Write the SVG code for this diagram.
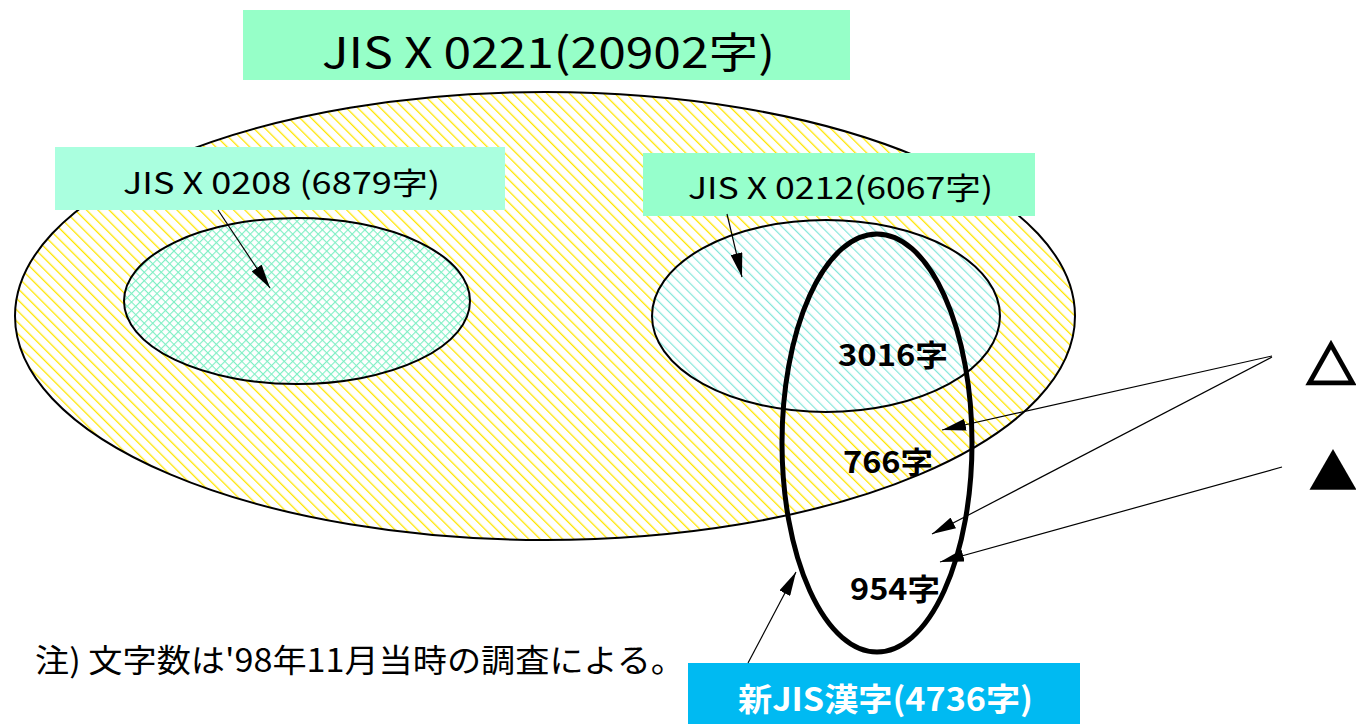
<svg xmlns="http://www.w3.org/2000/svg" width="1356" height="724" viewBox="0 0 1356 724">
<defs>
<style>
.t{font-family:"Noto Sans CJK JP","Liberation Sans",sans-serif;fill:#000}
.b{font-weight:bold}
.ln{stroke:#000;stroke-width:1.2;fill:none}
</style>
<pattern id="py" width="8" height="8" patternUnits="userSpaceOnUse" patternTransform="rotate(-45)">
<rect width="8" height="8" fill="#fff"/>
<line x1="0" y1="0" x2="0" y2="8" stroke="#FFE600" stroke-width="2.6"/>
</pattern>
<pattern id="pc" width="6" height="6" patternUnits="userSpaceOnUse" patternTransform="rotate(45)">
<rect width="6" height="6" fill="#fff"/>
<line x1="0" y1="0" x2="0" y2="6" stroke="#7FEFC4" stroke-width="2.2"/>
<line x1="0" y1="0" x2="6" y2="0" stroke="#7FEFC4" stroke-width="2.2"/>
</pattern>
<pattern id="pr" width="7" height="7" patternUnits="userSpaceOnUse" patternTransform="rotate(-45)">
<rect width="7" height="7" fill="#fff"/>
<line x1="0" y1="0" x2="0" y2="7" stroke="#84E6DA" stroke-width="2.4"/>
</pattern>
<marker id="ah" markerWidth="24" markerHeight="12" refX="24" refY="6" orient="auto" markerUnits="userSpaceOnUse">
<path d="M0,0 L24,6 L0,12 Z" fill="#000"/>
</marker>
</defs>
<rect width="1356" height="724" fill="#fff"/>
<g id="jisx0221">
<ellipse cx="545" cy="316" rx="530" ry="224" fill="url(#py)" stroke="#000" stroke-width="2"/>
</g>
<g id="jisx0208">
<ellipse cx="297" cy="301" rx="173" ry="83" fill="url(#pc)" stroke="#000" stroke-width="2"/>
</g>
<g id="jisx0212">
<ellipse cx="826" cy="316" rx="174" ry="96" fill="url(#pr)" stroke="#000" stroke-width="2"/>
</g>
<g id="newjis">
<ellipse cx="877" cy="443" rx="95" ry="209" fill="none" stroke="#000" stroke-width="5"/>
</g>
<g id="title">
<rect x="243" y="10" width="607" height="70" fill="#96FFC8"/>
<text class="t" x="322" y="68" font-size="42" textLength="453" lengthAdjust="spacingAndGlyphs">JIS X 0221(20902字)</text>
</g>
<g id="label0208">
<rect x="55" y="147" width="450" height="63" fill="#AAFFDF"/>
<text class="t" x="123" y="194" font-size="30" textLength="317" lengthAdjust="spacingAndGlyphs">JIS X 0208 (6879字)</text>
</g>
<g id="label0212">
<rect x="643" y="153" width="392" height="63" fill="#96FFCC"/>
<text class="t" x="688" y="199" font-size="30" textLength="305" lengthAdjust="spacingAndGlyphs">JIS X 0212(6067字)</text>
</g>
<g id="counts">
<text class="t b" x="838" y="366" font-size="30" textLength="110" lengthAdjust="spacingAndGlyphs">3016字</text>
<text class="t b" x="843" y="473" font-size="30" textLength="90" lengthAdjust="spacingAndGlyphs">766字</text>
<text class="t b" x="850" y="600" font-size="30" textLength="90" lengthAdjust="spacingAndGlyphs">954字</text>
</g>
<g id="legend">
<text class="t b" x="1306" y="384" font-size="50" stroke="#000" stroke-width="2.5">△</text>
<text class="t" x="1308" y="490" font-size="50">▲</text>
</g>
<g id="note">
<text class="t" x="35" y="672" font-size="32" textLength="650" lengthAdjust="spacingAndGlyphs">注) 文字数は'98年11月当時の調査による。</text>
</g>
<g id="labelnew">
<rect x="688" y="663" width="392" height="61" fill="#00BAF2"/>
<text class="t b" x="738" y="711" font-size="32" style="fill:#fff" textLength="295" lengthAdjust="spacingAndGlyphs">新JIS漢字(4736字)</text>
</g>
<g id="connectors">
<line class="ln" x1="218" y1="210" x2="270" y2="288" marker-end="url(#ah)"/>
<line class="ln" x1="727" y1="214" x2="742" y2="277" marker-end="url(#ah)"/>
<line class="ln" x1="1272" y1="356" x2="942" y2="430" marker-end="url(#ah)"/>
<line class="ln" x1="1272" y1="357" x2="932" y2="534" marker-end="url(#ah)"/>
<line class="ln" x1="1282" y1="467" x2="940" y2="562" marker-end="url(#ah)"/>
<line class="ln" x1="748" y1="663" x2="796" y2="572" marker-end="url(#ah)"/>
</g>
</svg>
